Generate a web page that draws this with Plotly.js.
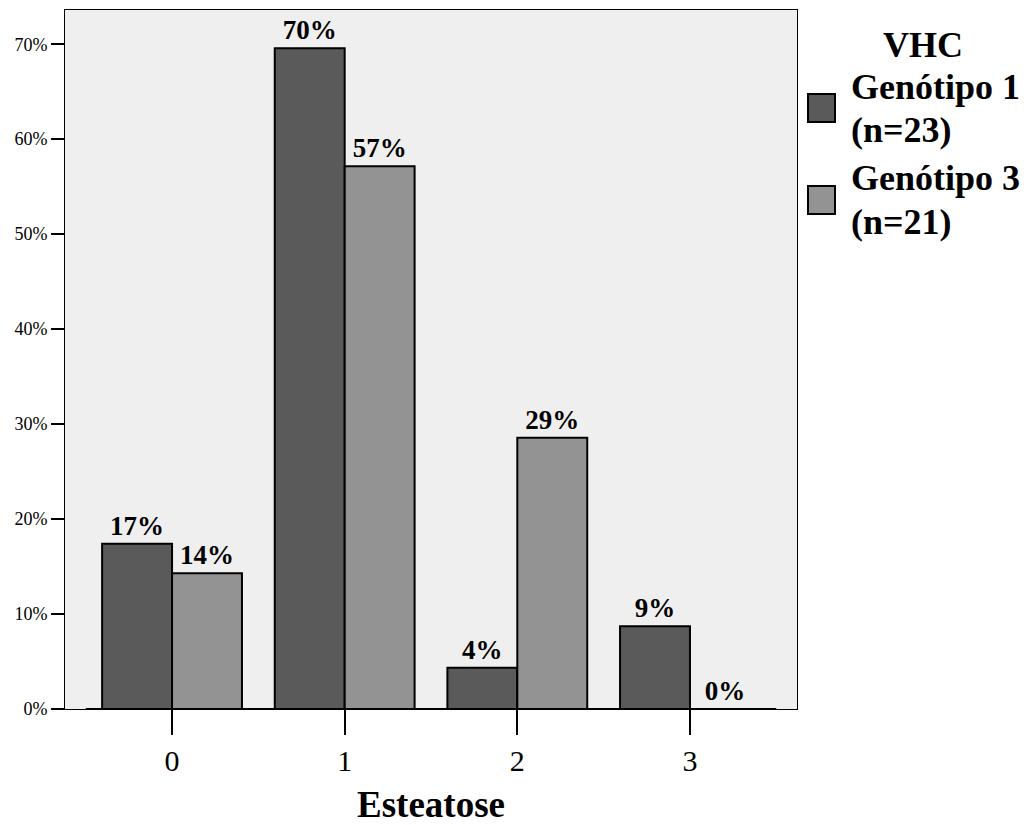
<!DOCTYPE html>
<html>
<head>
<meta charset="utf-8">
<script src="https://cdn.plot.ly/plotly-3.0.1.min.js"></script>
<style>
  html, body { margin: 0; padding: 0; background: #ffffff; }
  #chart { width: 1034px; height: 825px; }
</style>
</head>
<body>
<div id="chart"></div>
<script>
// Steatosis grade per HCV genotype (percent of patients in each group)
const grades = [0, 1, 2, 3];
const gradeLabels = ['0', '1', '2', '3'];
const genotype1 = [17.39, 69.57, 4.35, 8.70];
const genotype3 = [14.29, 57.14, 28.57, 0];
const seriesNames = ['Genótipo 1', 'Genótipo 3'];
const seriesCounts = [23, 21];
const seriesColors = ['#5a5a5a', '#939393'];
const yTicks = [0, 10, 20, 30, 40, 50, 60, 70];
const yTickLabels = ['0%', '10%', '20%', '30%', '40%', '50%', '60%', '70%'];
const legendTitle = 'VHC';
const xTitle = 'Esteatose';

const W = 1034, H = 825;
const M = { l: 65, r: 237, t: 10, b: 116 };
const plotW = W - M.l - M.r, plotH = H - M.t - M.b;
const px2x = px => (px - M.l) / plotW;
const px2y = py => (H - M.b - py) / plotH;

const serif = '"Liberation Serif", serif';
const legendFont = { family: serif, size: 36, color: '#000000', weight: 'bold' };

function barTrace(values, i) {
  return {
    type: 'bar',
    x: grades,
    y: values,
    name: seriesNames[i] + ' (n=' + seriesCounts[i] + ')',
    marker: { color: seriesColors[i], line: { color: '#000000', width: 2 } },
    texttemplate: '%{y:.0f}%',
    textposition: 'outside',
    constraintext: 'none',
    cliponaxis: false,
    textfont: { family: serif, size: 27, color: '#000000', weight: 'bold' },
    hoverinfo: 'skip',
    showlegend: false
  };
}

const data = [barTrace(genotype1, 0), barTrace(genotype3, 1)];

// Legend drawn as swatches and bold labels to the right of the plot
const shapes = [
  { type: 'line', xref: 'x', yref: 'y', x0: -0.5, x1: 3.5, y0: 0, y1: 0,
    line: { color: '#000000', width: 2 } }
];
const annotations = [
  { xref: 'paper', yref: 'paper', x: px2x(923), y: px2y(45), xanchor: 'center', yanchor: 'middle',
    text: legendTitle, showarrow: false, font: legendFont }
];
const itemCenters = [108, 200];
const lineOffset = 21.5;
seriesNames.forEach((nm, i) => {
  const cy = itemCenters[i];
  shapes.push({
    type: 'rect', xref: 'paper', yref: 'paper',
    x0: px2x(808), x1: px2x(835), y0: px2y(cy - 14), y1: px2y(cy + 14),
    fillcolor: seriesColors[i], line: { color: '#000000', width: 2 }
  });
  [nm, '(n=' + seriesCounts[i] + ')'].forEach((line, k) => {
    annotations.push({
      xref: 'paper', yref: 'paper', x: px2x(849),
      y: px2y(cy + (k === 0 ? -lineOffset : lineOffset)),
      xanchor: 'left', yanchor: 'middle', align: 'left', showarrow: false,
      text: line, font: legendFont
    });
  });
});

const layout = {
  width: W, height: H,
  margin: M,
  paper_bgcolor: '#ffffff',
  plot_bgcolor: '#efefef',
  barmode: 'group',
  bargap: 0.19,
  bargroupgap: 0,
  showlegend: false,
  xaxis: {
    range: [-0.62, 3.62],
    tickvals: grades, ticktext: gradeLabels,
    ticks: 'outside', ticklen: 25, tickwidth: 2, tickcolor: '#000000',
    tickfont: { family: serif, size: 30, color: '#000000' },
    showgrid: false, zeroline: false,
    showline: true, linecolor: '#000000', linewidth: 1, mirror: true,
    title: { text: xTitle, standoff: 17,
      font: { family: serif, size: 37, color: '#000000', weight: 'bold' } },
    fixedrange: true
  },
  yaxis: {
    range: [0, 73.6],
    tickvals: yTicks, ticktext: yTickLabels,
    ticks: 'outside', ticklen: 13, tickwidth: 2, tickcolor: '#000000',
    tickfont: { family: serif, size: 18, color: '#000000' },
    showgrid: false, zeroline: false,
    showline: true, linecolor: '#000000', linewidth: 1, mirror: true,
    fixedrange: true
  },
  shapes: shapes,
  annotations: annotations
};

Plotly.newPlot('chart', data, layout, { displayModeBar: false, staticPlot: true });
</script>
</body>
</html>
